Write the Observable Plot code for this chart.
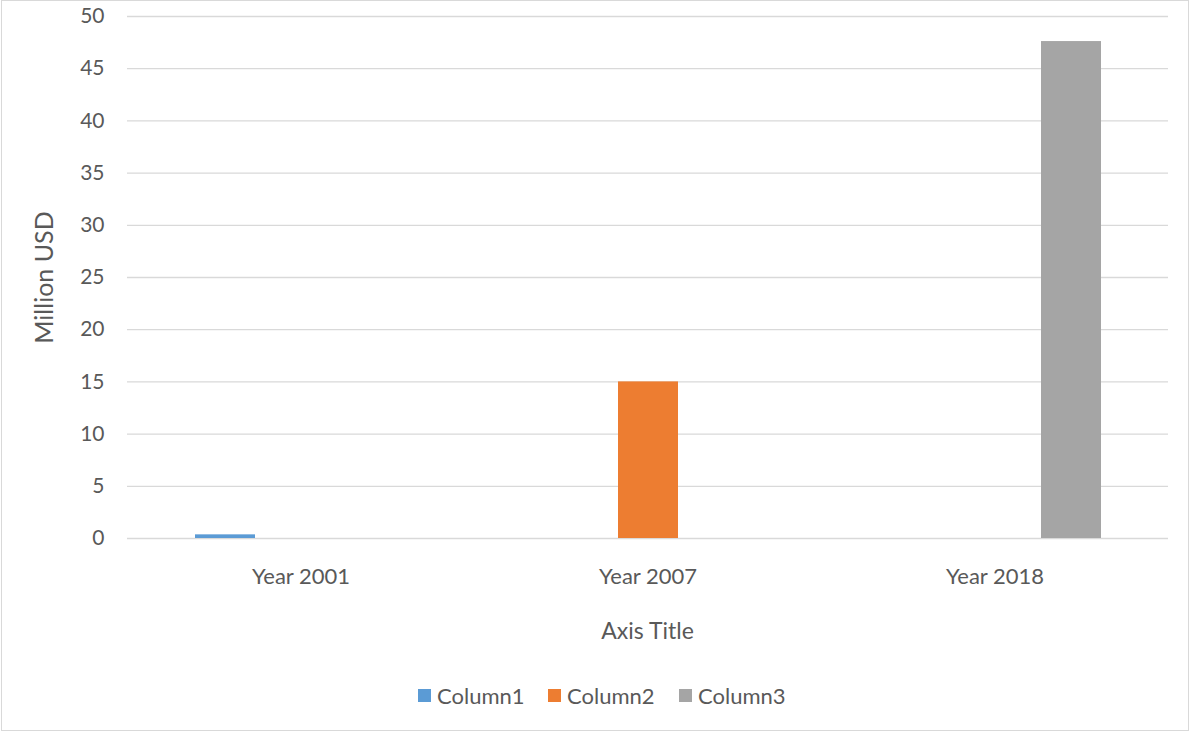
<!DOCTYPE html>
<html>
<head>
<meta charset="utf-8">
<script src="https://cdn.jsdelivr.net/npm/d3@7"></script>
<script src="https://cdn.jsdelivr.net/npm/@observablehq/plot@0.6"></script>
<style>
  html, body { margin: 0; padding: 0; background: #fff; }
  #wrap { position: relative; width: 1192px; height: 734px; overflow: hidden; font-family: Lato, "Open Sans", sans-serif; color: #595959; }
  #border { position: absolute; left: 1px; top: 0px; width: 1188px; height: 731px; border: 1px solid #d9d9d9; box-sizing: border-box; }
  #chart { position: absolute; left: 0; top: 0; }
  #xtitle { position: absolute; left: 447.5px; width: 400px; top: 616px; text-align: center; font-size: 23px; line-height: 28px; }
  #legend { position: absolute; left: 0; top: 681px; width: 1192px; height: 28px; }
  .item { position: absolute; top: 0; display: flex; align-items: center; height: 28px; font-size: 22px; }
  .sw { width: 13px; height: 13px; margin-right: 6px; }
</style>
</head>
<body>
<div id="wrap">
  <div id="border"></div>
  <div id="chart"></div>
  <div id="xtitle">Axis Title</div>
  <div id="legend"></div>
</div>
<script>
const categories = ["Year 2001", "Year 2007", "Year 2018"];
const seriesNames = ["Column1", "Column2", "Column3"];
const column1 = [0.35, null, null];
const column2 = [null, 15, null];
const column3 = [null, null, 47.6];
const yTicks = [0, 5, 10, 15, 20, 25, 30, 35, 40, 45, 50];
const colors = ["#5B9BD5", "#ED7D31", "#A5A5A5"];

const seriesValues = [column1, column2, column3];
const table = [];
categories.forEach((c, i) => {
  seriesNames.forEach((s, j) => {
    const v = seriesValues[j][i];
    if (v != null) table.push({category: c, series: s, value: v});
  });
});

const chart = Plot.plot({
  width: 1192,
  height: 660,
  marginLeft: 127,
  marginRight: 24,
  marginTop: 16,
  marginBottom: 122,
  style: {fontFamily: "Lato, 'Open Sans', sans-serif", fontSize: "20px", color: "#595959", background: "transparent"},
  fx: {domain: categories, padding: 0},
  x: {domain: seriesNames, paddingInner: 0.216, paddingOuter: 0.876, axis: null},
  y: {domain: [0, 50]},
  color: {domain: seriesNames, range: colors},
  marks: [
    Plot.gridY({ticks: yTicks, stroke: "#d9d9d9", strokeOpacity: 1, strokeWidth: 1.3}),
    Plot.barY(table, {fx: "category", x: "series", y: "value", fill: "series"}),
    Plot.axisY({ticks: yTicks, tickSize: 0, tickPadding: 23, fontSize: 21, label: null}),
    Plot.axisY({ticks: [], tickSize: 0, fontSize: 25, label: "Million USD", labelAnchor: "center", labelOffset: 92, labelArrow: "none"}),
    Plot.axisFx({anchor: "bottom", tickSize: 0, tickPadding: 30, fontSize: 22, label: null})
  ]
});
document.getElementById("chart").appendChild(chart);

const legendX = [418, 548, 679];
const legend = document.getElementById("legend");
seriesNames.forEach((s, i) => {
  const it = document.createElement("div");
  it.className = "item";
  it.style.left = legendX[i] + "px";
  const sw = document.createElement("div");
  sw.className = "sw";
  sw.style.background = colors[i];
  const t = document.createElement("span");
  t.textContent = s;
  it.appendChild(sw);
  it.appendChild(t);
  legend.appendChild(it);
});
</script>
</body>
</html>
